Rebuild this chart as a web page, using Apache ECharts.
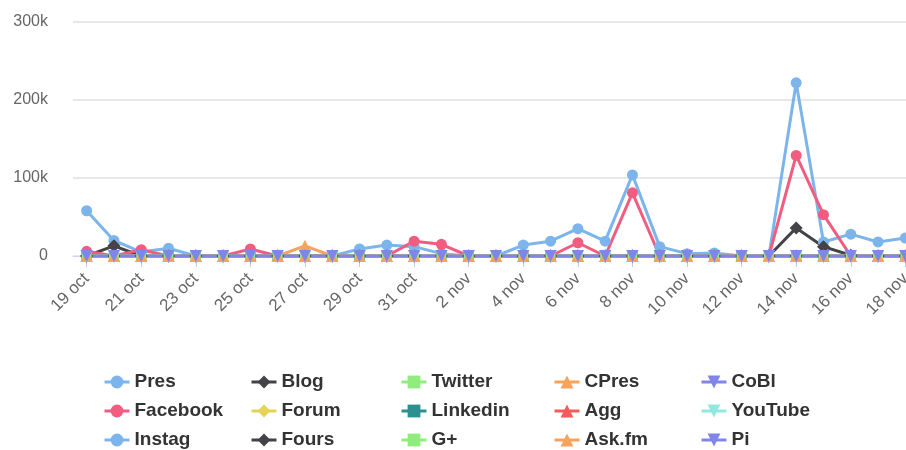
<!DOCTYPE html>
<html>
<head>
<meta charset="utf-8">
<script src="https://cdn.jsdelivr.net/npm/echarts@6/dist/echarts.min.js"></script>
<style>
  * { margin: 0; padding: 0; }
  body { background: #fff; }
</style>
</head>
<body>
<!-- chart container -->
<div id="main" style="width: 906px;height: 450px;"></div>
<script>
  var days = ['19 oct','20 oct','21 oct','22 oct','23 oct','24 oct','25 oct','26 oct','27 oct','28 oct',
    '29 oct','30 oct','31 oct','1 nov','2 nov','3 nov','4 nov','5 nov','6 nov','7 nov','8 nov',
    '9 nov','10 nov','11 nov','12 nov','13 nov','14 nov','15 nov','16 nov','17 nov','18 nov'];
  var yTicks = [0, 100000, 200000, 300000];

  var pres     = [58000,20000,5000,10000,0,0,0,0,0,0,9000,14000,12000,3000,0,0,14000,19000,35000,19000,104000,12000,3000,4000,0,0,222000,18000,28000,18000,23000];
  var blog     = [0,13000,0,0,0,0,0,0,0,0,0,0,0,0,0,0,0,0,0,0,0,0,0,0,0,0,36000,12000,1000,0,0];
  var twitter  = [0,0,0,0,0,0,0,0,0,0,0,0,0,0,0,1000,0,0,0,0,0,0,0,0,0,0,0,0,0,0,0];
  var cpres    = [0,0,0,0,0,0,0,0,13000,0,0,0,0,0,0,0,0,0,0,0,0,0,0,0,0,0,0,0,0,0,0];
  var cobl     = [0,0,0,0,0,0,0,0,0,0,0,0,0,0,0,0,0,0,0,0,0,0,0,0,0,0,0,0,0,0,0];
  var facebook = [6000,0,8000,0,0,0,9000,0,0,0,0,0,19000,15000,0,0,0,0,17000,0,81000,0,0,0,0,0,129000,53000,0,0,0];
  var forum    = [0,0,0,0,0,0,0,0,0,0,0,0,0,0,0,0,0,0,0,0,0,0,0,0,0,0,0,0,0,0,0];
  var linkedin = [0,0,0,0,0,0,0,0,0,0,0,0,0,0,0,0,0,0,0,0,0,0,0,0,0,0,0,0,0,0,0];
  var agg      = [0,0,0,0,0,0,0,0,0,0,0,0,0,0,0,0,0,0,0,0,0,0,0,0,0,0,0,0,0,0,0];
  var youtube  = [0,0,0,0,0,0,0,0,0,0,0,0,0,0,0,0,0,0,0,0,0,0,0,0,0,0,0,0,0,0,0];
  var instag   = [0,0,0,0,0,0,0,0,0,0,0,0,0,0,0,0,0,0,0,0,0,0,0,0,0,0,0,0,0,0,0];
  var fours    = [0,0,0,0,0,0,0,0,0,0,0,0,0,0,0,0,0,0,0,0,0,0,0,0,0,0,0,0,0,0,0];
  var gplus    = [0,0,0,0,0,0,0,0,0,0,0,0,0,0,0,0,0,0,0,0,0,0,0,0,0,0,0,0,0,0,0];
  var askfm    = [0,0,0,0,0,0,0,0,0,0,0,0,0,0,0,0,0,0,0,0,0,0,0,0,0,0,0,0,0,0,0];
  var pi       = [0,0,0,0,0,0,0,0,0,0,0,0,0,0,0,0,0,0,0,0,0,0,0,0,0,0,0,0,0,0,0];

  var names  = ['Pres','Blog','Twitter','CPres','CoBl','Facebook','Forum','Linkedin','Agg','YouTube','Instag','Fours','G+','Ask.fm','Pi'];
  var values = [pres,blog,twitter,cpres,cobl,facebook,forum,linkedin,agg,youtube,instag,fours,gplus,askfm,pi];
  var colors = ['#7cb5ec','#434348','#90ed7d','#f7a35c','#8085e9','#f15c80','#e4d354','#2b908f','#f45b5b','#91e8e1'];
  // highcharts style marker cycle
  var symbols = ['circle','diamond','rect','triangle','triangle'];
  var symSize = [11,13,10,12,12];

  var series = names.map(function(n, i){
    var k = i % 5;
    return {
      name: n,
      type: 'line',
      data: values[i],
      color: colors[i % 10],
      symbol: symbols[k],
      symbolSize: symSize[k],
      symbolRotate: k == 4 ? 180 : 0,
      showAllSymbol: true,
      lineStyle: { width: 3 },
      itemStyle: { opacity: 1 },
      emphasis: { disabled: true },
      animation: false
    };
  });

  // 5 legend columns, 3 rows each
  var legendX = [103, 250, 400, 553, 700];
  var legends = legendX.map(function(x, c){
    return {
      orient: 'vertical',
      left: x,
      top: 372,
      padding: 0,
      itemWidth: 25,
      itemHeight: 16,
      itemGap: 9,
      lineStyle: { width: 3 },
      data: [names[c], names[c+5], names[c+10]],
      textStyle: { color: '#333', fontSize: 19, fontWeight: 'bold', fontFamily: 'Liberation Sans', lineHeight: 20 }
    };
  });

  var mycharts = echarts.init(document.getElementById('main'));
  var option = {
    backgroundColor: '#fff',
    textStyle: { fontFamily: 'Liberation Sans' },
    grid: { left: 73, top: 22, width: 846, height: 234, outerBoundsMode: 'none', containLabel: false },
    legend: legends,
    xAxis: {
      type: 'category',
      data: days,
      axisLine: { show: true, lineStyle: { color: '#ccd6eb', width: 1 } },
      axisTick: { show: true, alignWithLabel: true, interval: 1, length: 11, lineStyle: { color: '#c9c6ea' } },
      axisLabel: { interval: 1, rotate: 45, margin: 20, color: '#666', fontSize: 17 }
    },
    yAxis: {
      type: 'value',
      min: yTicks[0],
      max: yTicks[yTicks.length - 1],
      interval: 100000,
      axisLine: { show: false },
      axisTick: { show: false },
      splitLine: { lineStyle: { color: '#e8e8e8', width: 2 } },
      axisLabel: {
        margin: 25, color: '#666', fontSize: 16,
        formatter: function(v){ return v == 0 ? '0' : (v / 1000) + 'k'; }
      }
    },
    series: series
  };
  mycharts.setOption(option);
</script>
</body>
</html>
